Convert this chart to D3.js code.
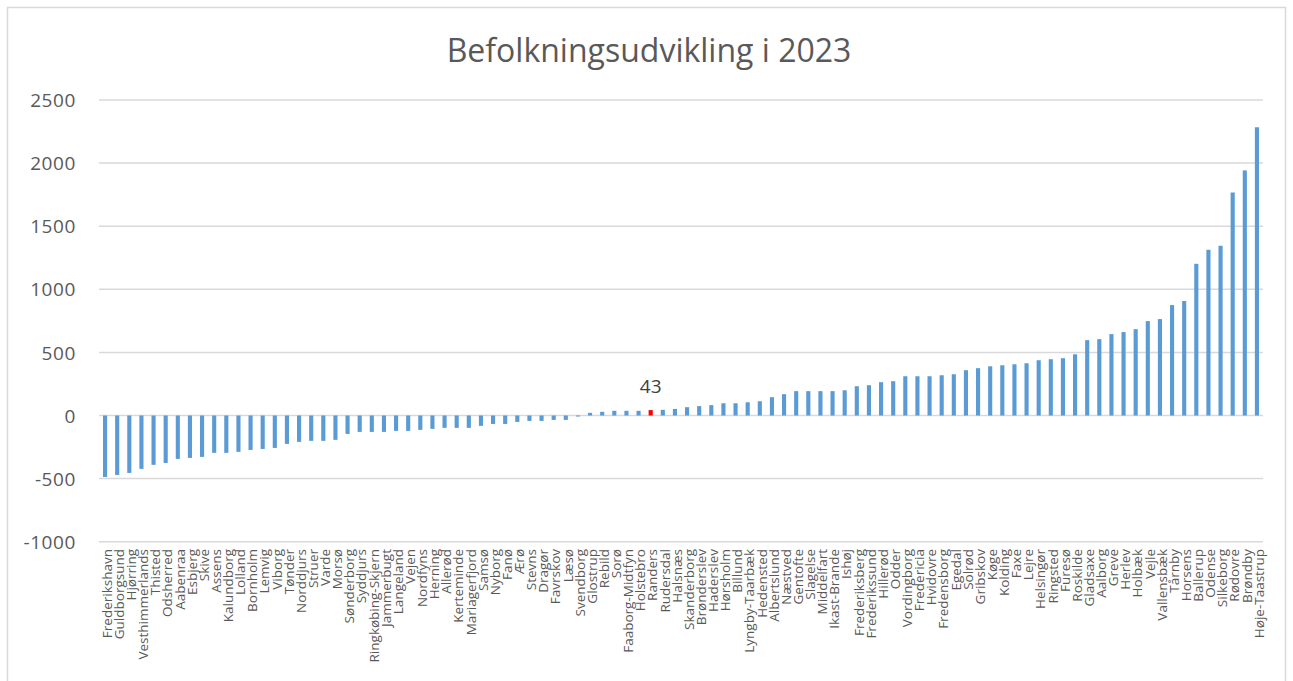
<!DOCTYPE html>
<html>
<head>
<meta charset="utf-8">
<script src="https://cdn.jsdelivr.net/npm/d3@7"></script>
<style>
  html, body { margin: 0; padding: 0; background: #ffffff; }
  svg { display: block; }
</style>
</head>
<body>
<svg id="chart" width="1293" height="681"></svg>
<script>
// Kommuner, sorteret efter befolkningsudvikling
const municipalities = [
  "Frederikshavn", "Guldborgsund", "Hjørring", "Vesthimmerlands", "Thisted", "Odsherred",
  "Aabenraa", "Esbjerg", "Skive", "Assens", "Kalundborg", "Lolland", "Bornholm", "Lemvig",
  "Viborg", "Tønder", "Norddjurs", "Struer", "Varde", "Morsø", "Sønderborg", "Syddjurs",
  "Ringkøbing-Skjern", "Jammerbugt", "Langeland", "Vejen", "Nordfyns", "Herning", "Allerød",
  "Kerteminde", "Mariagerfjord", "Samsø", "Nyborg", "Fanø", "Ærø", "Stevns", "Dragør",
  "Favrskov", "Læsø", "Svendborg", "Glostrup", "Rebild", "Sorø", "Faaborg-Midtfyn",
  "Holstebro", "Randers", "Rudersdal", "Halsnæs", "Skanderborg", "Brønderslev", "Haderslev",
  "Hørsholm", "Billund", "Lyngby-Taarbæk", "Hedensted", "Albertslund", "Næstved", "Gentofte",
  "Slagelse", "Middelfart", "Ikast-Brande", "Ishøj", "Frederiksberg", "Frederikssund",
  "Hillerød", "Odder", "Vordingborg", "Fredericia", "Hvidovre", "Fredensborg", "Egedal",
  "Solrød", "Gribskov", "Køge", "Kolding", "Faxe", "Lejre", "Helsingør", "Ringsted", "Furesø",
  "Roskilde", "Gladsaxe", "Aalborg", "Greve", "Herlev", "Holbæk", "Vejle", "Vallensbæk",
  "Tårnby", "Horsens", "Ballerup", "Odense", "Silkeborg", "Rødovre", "Brøndby", "Høje-Taastrup"
];

// Ændring i indbyggertal i 2023
const change = [
  -487, -471, -455, -423, -391, -376, -344, -336, -328, -296, -296, -288, -273, -265,
  -257, -225, -209, -201, -201, -193, -146, -130, -130, -130, -122, -122, -114, -106,
  -98, -98, -98, -82, -67, -67, -51, -43, -43, -35, -35, -8, 21, 29, 37, 37, 37, 43,
  45, 52, 66, 74, 82, 97, 97, 105, 113, 145, 169, 193, 193, 193, 193, 200, 232, 240,
  264, 272, 311, 311, 311, 319, 327, 359, 375, 390, 398, 406, 414, 438, 446, 454, 485,
  597, 605, 645, 661, 684, 748, 764, 875, 907, 1202, 1313, 1345, 1767, 1942, 2284
];

const yTicks = [-1000, -500, 0, 500, 1000, 1500, 2000, 2500];
const highlighted = ["Randers"];
const chartTitle = "Befolkningsudvikling i 2023";

const data = municipalities.map((name, i) => ({ name, value: change[i] }));

const svg = d3.select("#chart");
const textColor = "#595959";
const gridColor = "#d9d9d9";
const labelFont = "'Open Sans', 'Noto Sans', sans-serif";
const fmt = d => String(d); // plain hyphen for negative numbers

// Chart frame
svg.append("rect")
  .attr("x", 7.5).attr("y", 7.5)
  .attr("width", 1278).attr("height", 700)
  .attr("fill", "#ffffff")
  .attr("stroke", "#d9d9d9")
  .attr("stroke-width", 1.5);

const x = d3.scaleBand()
  .domain(municipalities)
  .range([99, 1263])
  .paddingInner(0)
  .paddingOuter(0);

const y = d3.scaleLinear()
  .domain([-1000, 2500])
  .range([541.7, 100]);

// Gridlines
svg.append("g")
  .selectAll("line")
  .data(yTicks)
  .join("line")
  .attr("x1", 99).attr("x2", 1263)
  .attr("y1", d => y(d)).attr("y2", d => y(d))
  .attr("stroke", gridColor)
  .attr("stroke-width", 1.5);

// Value axis labels
const yAxis = d3.axisLeft(y).tickValues(yTicks).tickSize(0).tickPadding(0).tickFormat(fmt);
const yG = svg.append("g").attr("transform", "translate(76,0)").call(yAxis);
yG.select(".domain").remove();
yG.selectAll("text")
  .attr("fill", textColor)
  .style("font-family", labelFont)
  .style("font-size", "19px")
  .style("letter-spacing", "0.6px")
  .attr("dy", "0.35em");

// Bars
const barW = x.bandwidth() * 0.34;
svg.append("g")
  .selectAll("rect")
  .data(data)
  .join("rect")
  .attr("x", d => x(d.name) + x.bandwidth() / 2 - barW / 2)
  .attr("width", barW)
  .attr("y", d => y(Math.max(0, d.value)))
  .attr("height", d => Math.abs(y(d.value) - y(0)))
  .attr("fill", d => highlighted.includes(d.name) ? "#ff0000" : "#5b9bd5");

// Data label for the highlighted municipality
svg.append("g")
  .selectAll("text")
  .data(data.filter(d => highlighted.includes(d.name)))
  .join("text")
  .attr("x", d => x(d.name) + x.bandwidth() / 2)
  .attr("y", d => y(d.value) - 17)
  .attr("text-anchor", "middle")
  .attr("fill", "#404040")
  .style("font-family", labelFont)
  .style("font-size", "19px")
  .text(d => fmt(d.value));

// Category axis labels, rotated
const xAxis = d3.axisBottom(x).tickSize(0).tickPadding(0);
const xG = svg.append("g").attr("transform", "translate(0,549)").call(xAxis);
xG.select(".domain").remove();
xG.selectAll("text")
  .attr("transform", "rotate(-90)")
  .attr("text-anchor", "end")
  .attr("x", 0)
  .attr("y", 2)
  .attr("dy", "0.35em")
  .attr("fill", textColor)
  .style("font-family", labelFont)
  .style("font-size", "13.5px");

// Title
svg.append("text")
  .attr("x", 649)
  .attr("y", 62)
  .attr("text-anchor", "middle")
  .attr("fill", textColor)
  .style("font-family", labelFont)
  .style("font-size", "32px")
  .text(chartTitle);
</script>
</body>
</html>
